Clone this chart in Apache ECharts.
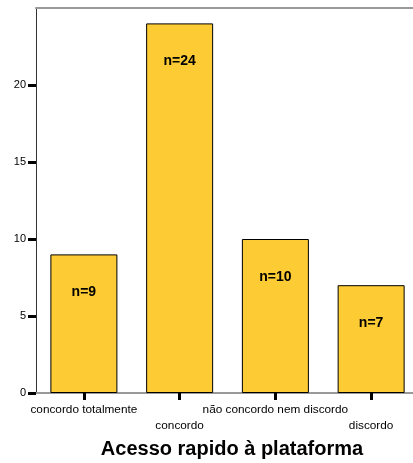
<!DOCTYPE html>
<html><head><meta charset="utf-8">
<script src="https://cdn.jsdelivr.net/npm/echarts@6/dist/echarts.min.js"></script>
<style>html,body{margin:0;padding:0;background:#fff}#c{width:413px;height:463px}</style>
</head><body><div id="c"></div>
<script>
const categories = ['concordo totalmente', 'concordo', 'não concordo nem discordo', 'discordo'];
const counts = [9, 24, 10, 7];
const yTicks = [0, 5, 10, 15, 20];
const titleText = 'Acesso rapido à plataforma';

const chart = echarts.init(document.getElementById('c'));
const font = '"Liberation Sans", Arial, sans-serif';
chart.setOption({
  animation: false,
  grid: { left: 36, top: 8, width: 383, height: 385, containLabel: false, outerBoundsMode: 'none' },
  xAxis: [{
    type: 'category', data: categories,
    axisLine: { show: true, lineStyle: { color: '#999', width: 2 } },
    axisTick: { show: true, alignWithLabel: true, length: 7, lineStyle: { color: '#000', width: 3 } },
    axisLabel: {
      interval: 0, margin: 9, color: '#000', fontFamily: font, fontSize: 11.8, lineHeight: 16,
      formatter: (v, i) => (i % 2 === 1 ? '\n' + v : v)
    }
  }, {
    type: 'category', data: categories, position: 'top',
    axisLine: { show: true, lineStyle: { color: '#999', width: 2 } },
    axisTick: { show: false }, axisLabel: { show: false }
  }],
  yAxis: {
    type: 'value', min: 0, max: 25, interval: 5,
    splitLine: { show: false },
    axisLine: { show: true, lineStyle: { color: '#333', width: 1 } },
    axisTick: { show: true, length: 8, customValues: yTicks, lineStyle: { color: '#000', width: 3 } },
    axisLabel: {
      color: '#000', fontFamily: font, fontSize: 11, margin: 10, customValues: yTicks
    }
  },
  graphic: [{
    type: 'text', x: 232, y: 449,
    style: { text: titleText, fill: '#000', font: 'bold 20px "Liberation Sans", Arial, sans-serif', textAlign: 'center', textVerticalAlign: 'middle' }
  }],
  series: [{
    type: 'bar', data: counts, barWidth: 67,
    itemStyle: { color: '#FDCB33', borderColor: '#000', borderWidth: 1 },
    label: {
      show: true, position: 'insideTop', distance: 31,
      formatter: p => 'n=' + p.value,
      color: '#000', fontFamily: font, fontSize: 14, fontWeight: 'bold'
    }
  }]
});
</script></body></html>
